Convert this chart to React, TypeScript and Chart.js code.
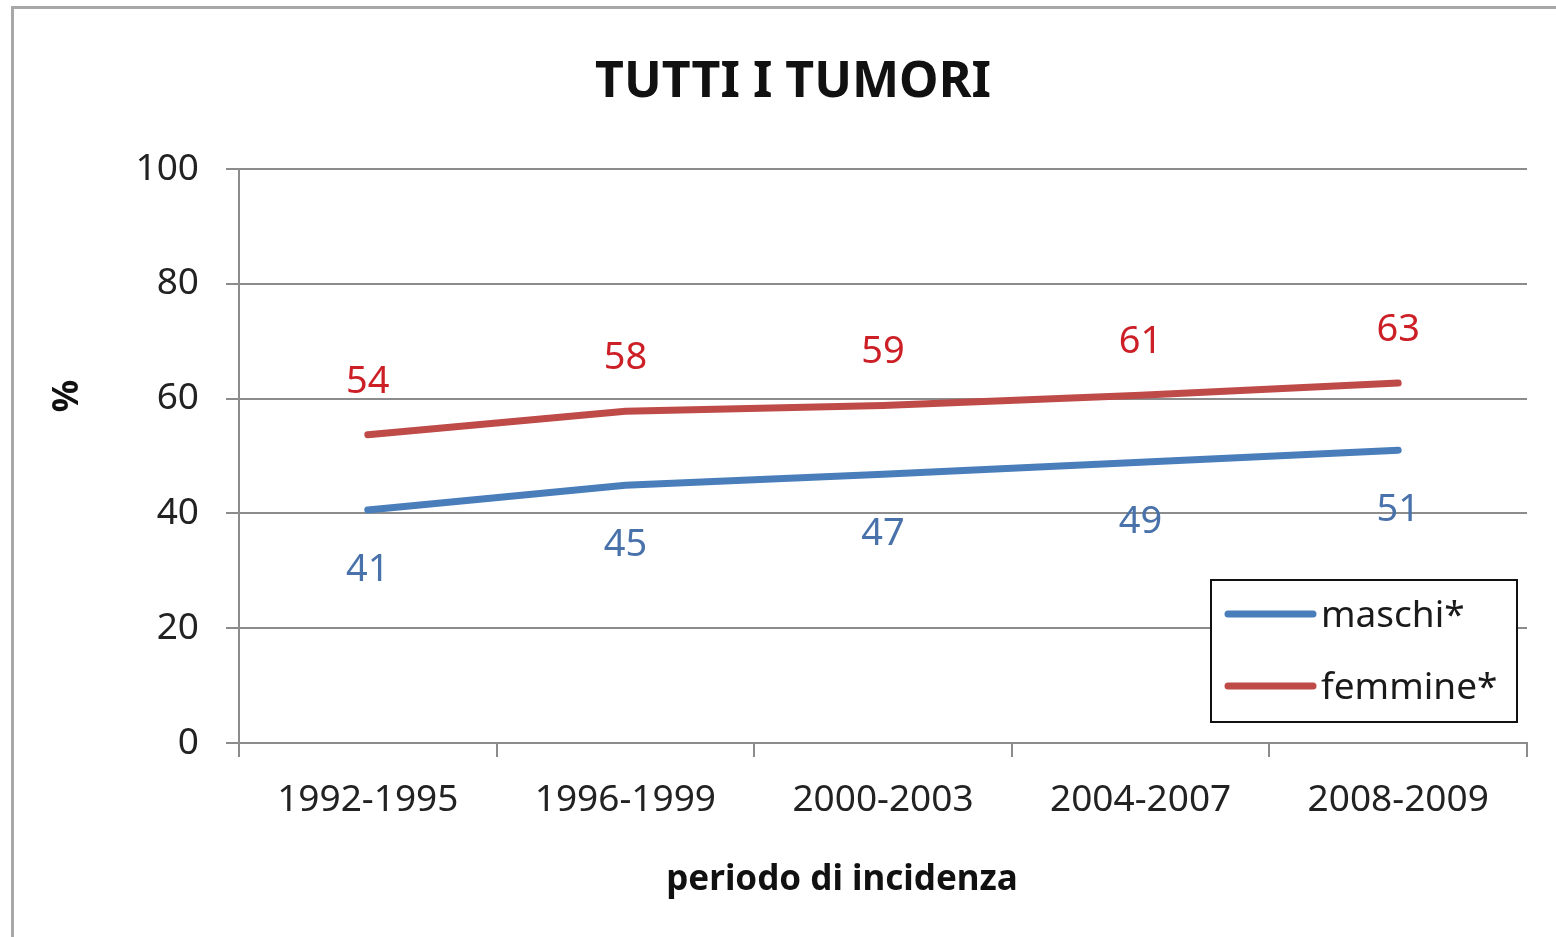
import React, { useEffect, useRef } from "react";
import { Chart, registerables } from "chart.js";
Chart.register(...registerables);

const periods = ["1992-1995", "1996-1999", "2000-2003", "2004-2007", "2008-2009"];
const maschi = [40.6, 44.9, 46.8, 48.9, 51.0];
const femmine = [53.7, 57.8, 58.8, 60.6, 62.7];
const yTicks = [0, 20, 40, 60, 80, 100];
const seriesNames = ["maschi*", "femmine*"];
const titleText = "TUTTI I TUMORI";
const xTitle = "periodo di incidenza";
const yTitle = "%";

const FONT = "'Noto Sans', 'Open Sans', sans-serif";
const BLUE = "#4A7EBB";
const RED = "#BE4B48";
const BLUE_TXT = "#4A72AA";
const RED_TXT = "#CC1F26";
const GRID = "#8c8c8c";

const decorPlugin = {
  id: "decor",
  afterDatasetsDraw(chart: any) {
    const ctx = chart.ctx;
    ctx.save();
    // data labels
    const offs = [60, -53];
    const cols = [BLUE_TXT, RED_TXT];
    chart.data.datasets.forEach((ds: any, i: number) => {
      const meta = chart.getDatasetMeta(i);
      ctx.font = `38px ${FONT}`;
      ctx.fillStyle = cols[i];
      ctx.textAlign = "center";
      ctx.textBaseline = "middle";
      meta.data.forEach((pt: any, j: number) => {
        ctx.fillText(String(Math.round(ds.data[j])), pt.x, pt.y + offs[i]);
      });
    });
    // title
    ctx.fillStyle = "#111";
    ctx.font = `bold 50px ${FONT}`;
    ctx.textAlign = "center";
    ctx.textBaseline = "middle";
    ctx.fillText(titleText, 793, 83);
    // x title
    ctx.font = `bold 35px ${FONT}`;
    ctx.fillText(xTitle, 842, 880);
    // y title
    ctx.save();
    ctx.translate(68, 396);
    ctx.rotate(-Math.PI / 2);
    ctx.font = `bold 36px ${FONT}`;
    ctx.fillText(yTitle, 0, 0);
    ctx.restore();
    // legend
    const lx = 1211, ly = 580, lw = 306, lh = 142;
    ctx.fillStyle = "#fff";
    ctx.fillRect(lx, ly, lw, lh);
    ctx.strokeStyle = "#111";
    ctx.lineWidth = 2;
    ctx.strokeRect(lx, ly, lw, lh);
    chart.data.datasets.forEach((ds: any, i: number) => {
      const y = 614 + i * 72;
      ctx.strokeStyle = ds.borderColor;
      ctx.lineWidth = 7;
      ctx.lineCap = "round";
      ctx.beginPath();
      ctx.moveTo(1228, y);
      ctx.lineTo(1313, y);
      ctx.stroke();
      ctx.fillStyle = "#1a1a1a";
      ctx.font = `37px ${FONT}`;
      ctx.textAlign = "left";
      ctx.textBaseline = "middle";
      ctx.fillText(ds.label, 1321, y + 2);
    });
    ctx.restore();
  },
};

export default function App() {
  const ref = useRef<HTMLCanvasElement>(null);
  useEffect(() => {
    if (!ref.current) return;
    const chart = new Chart(ref.current, {
      type: "line",
      data: {
        labels: periods,
        datasets: [
          {
            label: seriesNames[0],
            data: maschi,
            borderColor: BLUE,
            backgroundColor: BLUE,
            borderWidth: 7,
            pointRadius: 0,
            tension: 0,
            borderCapStyle: "round",
          },
          {
            label: seriesNames[1],
            data: femmine,
            borderColor: RED,
            backgroundColor: RED,
            borderWidth: 7,
            pointRadius: 0,
            tension: 0,
            borderCapStyle: "round",
          },
        ],
      },
      options: {
        animation: false,
        responsive: false,
        maintainAspectRatio: false,
        layout: { padding: { left: 0, top: 169, right: 29, bottom: 0 } },
        plugins: {
          legend: { display: false },
          title: { display: false },
          tooltip: { enabled: false },
        },
        scales: {
          x: {
            type: "category",
            offset: true,
            grid: {
              offset: true,
              drawOnChartArea: false,
              drawTicks: true,
              tickLength: 14,
              color: GRID,
              lineWidth: 2,
            },
            border: { display: true, color: GRID, width: 2 },
            ticks: {
              color: "#222",
              font: { family: FONT, size: 37 },
              padding: 21,
              maxRotation: 0,
              autoSkip: false,
            },
            afterFit: (s: any) => {
              s.height = 194;
            },
          },
          y: {
            min: 0,
            max: 100,
            afterBuildTicks: (s: any) => {
              s.ticks = yTicks.map((v) => ({ value: v }));
            },
            grid: { color: GRID, lineWidth: 2, tickLength: 13 },
            border: { display: true, color: GRID, width: 2 },
            ticks: {
              color: "#222",
              font: { family: FONT, size: 37 },
              padding: 27,
            },
            afterFit: (s: any) => {
              s.width = 239;
            },
          },
        },
      },
      plugins: [decorPlugin],
    });
    return () => chart.destroy();
  }, []);
  return (
    <div
      style={{
        position: "fixed",
        left: 0,
        top: 0,
        width: 1556,
        height: 937,
        overflow: "hidden",
        background: "#fff",
      }}
    >
      <div
        style={{
          position: "absolute",
          left: 11,
          top: 6,
          width: 1700,
          height: 1100,
          border: "3px solid #a8a8a8",
        }}
      />
      <canvas
        ref={ref}
        width={1556}
        height={937}
        style={{ position: "absolute", left: 0, top: 0 }}
      />
    </div>
  );
}
